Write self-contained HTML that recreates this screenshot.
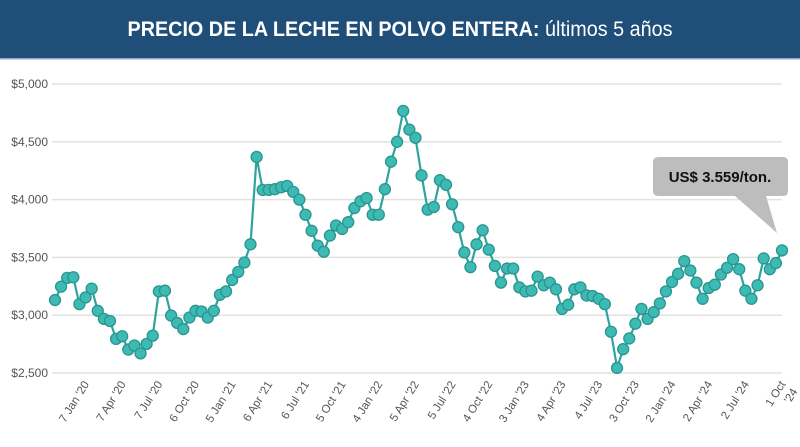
<!DOCTYPE html>
<html><head><meta charset="utf-8"><style>
html,body{margin:0;padding:0;background:#fff;}
svg{display:block;font-family:"Liberation Sans",sans-serif;}
</style></head><body>
<svg id="chart" width="800" height="447" viewBox="0 0 800 447">
<rect x="0" y="0" width="800" height="58" fill="#1f4e79"/>
<rect x="0" y="58" width="800" height="1.5" fill="#8fa9c4"/>
<text x="400" y="36" text-anchor="middle" fill="#fff" font-size="21" textLength="545" lengthAdjust="spacingAndGlyphs"><tspan font-weight="bold">PRECIO DE LA LECHE EN POLVO ENTERA:</tspan> últimos 5 años</text>
<g id="grid"></g><g id="xlabels"></g>
<path id="line" fill="none" stroke="#2fa39e" stroke-width="2.2"/>
<g id="points"></g>
<g>
<path d="M659,157 H783 Q788,157 788,162 V191 Q788,196 783,196 H766 L777,233 L735,196 H659 Q653,196 653,191 V162 Q653,157 659,157 Z" fill="#bdbdbd"/>
<text x="720" y="182" text-anchor="middle" font-size="15" font-weight="bold" fill="#111">US$ 3.559/ton.</text>
</g>
</svg>
<script>
const yTicks = [2500, 3000, 3500, 4000, 4500, 5000];
const yTickLabels = ["$2,500","$3,000","$3,500","$4,000","$4,500","$5,000"];
const xTickLabels = ["7 Jan '20","7 Apr '20","7 Jul '20","6 Oct '20","5 Jan '21","6 Apr '21","6 Jul '21","5 Oct '21","4 Jan '22","5 Apr '22","5 Jul '22","4 Oct '22","3 Jan '23","4 Apr '23","4 Jul '23","3 Oct '23","2 Jan '24","2 Apr '24","2 Jul '24","1 Oct|'24"];
const prices = [3131,3247,3323,3328,3096,3154,3230,3038,2968,2950,2795,2818,2703,2738,2670,2752,2823,3206,3212,2997,2933,2880,2980,3038,3032,2980,3038,3177,3206,3305,3375,3456,3613,4369,4084,4084,4090,4107,4119,4067,4000,3869,3730,3602,3549,3689,3776,3747,3805,3927,3985,4014,3869,3869,4090,4328,4500,4767,4605,4535,4209,3913,3936,4168,4128,3960,3762,3543,3416,3613,3735,3567,3427,3282,3404,3404,3241,3206,3212,3334,3259,3282,3224,3055,3090,3224,3241,3171,3166,3142,3096,2857,2544,2706,2799,2927,3055,2968,3026,3102,3206,3288,3358,3468,3387,3282,3142,3235,3264,3352,3410,3485,3398,3212,3142,3259,3491,3398,3451,3561];
const NS="http://www.w3.org/2000/svg";
const X0=55,X1=782,Y0=373,Y1=84;
const yScale=v=>Y0-(v-2500)/2500*(Y0-Y1);
const xScale=i=>X0+i*(X1-X0)/(prices.length-1);
const grid=document.getElementById('grid');
yTicks.forEach((t,k)=>{
  const l=document.createElementNS(NS,'line');
  l.setAttribute('x1',52);l.setAttribute('x2',782);
  l.setAttribute('y1',yScale(t));l.setAttribute('y2',yScale(t));
  l.setAttribute('stroke','#e2e2e2');l.setAttribute('stroke-width','1.5');
  
  
  grid.appendChild(l);
  const tx=document.createElementNS(NS,'text');
  tx.setAttribute('x',48);tx.setAttribute('y',yScale(t)+4);
  tx.setAttribute('text-anchor','end');tx.setAttribute('font-size','12');tx.setAttribute('fill','#555');
  tx.textContent=yTickLabels[k];
  
  
  grid.appendChild(tx);
});
const xl=document.getElementById('xlabels');
xTickLabels.forEach((s,k)=>{
  const i=5+k*6;
  const x=xScale(i)+4,y=384;
  const tx=document.createElementNS(NS,'text');
  tx.setAttribute('x',x);tx.setAttribute('y',y);
  tx.setAttribute('text-anchor','end');tx.setAttribute('font-size','11.5');tx.setAttribute('fill','#555');
  tx.setAttribute('transform','rotate(-58 '+x+' '+y+')');
  const parts=s.split('|');
  parts.forEach((p,j)=>{
    const ts=document.createElementNS(NS,'tspan');
    ts.setAttribute('x',x);
    if(j>0) ts.setAttribute('dy','14');
    ts.textContent=p;
    tx.appendChild(ts);
  });
  
  
  xl.appendChild(tx);
});
document.getElementById('line').setAttribute('d',prices.map((v,i)=>(i?'L':'M')+xScale(i).toFixed(1)+','+yScale(v).toFixed(1)).join(''));
const pts=document.getElementById('points');
prices.forEach((v,i)=>{
  const c=document.createElementNS(NS,'circle');
  c.setAttribute('cx',xScale(i));c.setAttribute('cy',yScale(v));c.setAttribute('r',5.5);
  c.setAttribute('fill','#3dbab4');c.setAttribute('stroke','#2a958f');c.setAttribute('stroke-width','1.3');
  
  
  pts.appendChild(c);
});
</script>
</body></html>
